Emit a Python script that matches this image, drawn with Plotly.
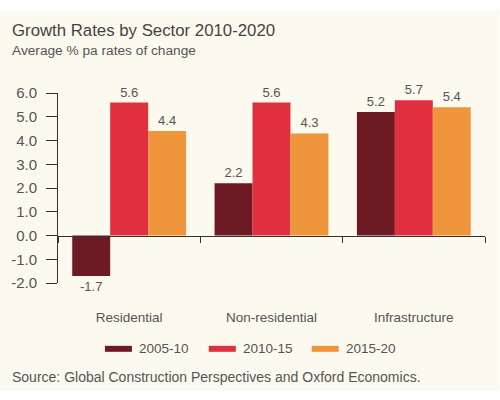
import plotly.graph_objects as go

categories = ["Residential", "Non-residential", "Infrastructure"]
series_names = ["2005-10", "2010-15", "2015-20"]
values_2005_10 = [-1.7, 2.2, 5.2]
values_2010_15 = [5.6, 5.6, 5.7]
values_2015_20 = [4.4, 4.3, 5.4]
y_ticks = [-2, -1, 0, 1, 2, 3, 4, 5, 6]

colors = ["#6d1a24", "#e0303f", "#ef963c"]
series_values = [values_2005_10, values_2010_15, values_2015_20]

W, H = 500, 400
L, R, T, B = 58, 14.5, 92.5, 117
PW, PH = W - L - R, H - T - B


def px2x(px):
    return (px - L) / PW


def py2y(py):
    return (H - B - py) / PH


TXT = "#555555"
FONT = "Liberation Sans, Arial, sans-serif"

fig = go.Figure()
for name, vals, col in zip(series_names, series_values, colors):
    fig.add_trace(go.Bar(
        x=categories, y=vals, name=name, marker=dict(color=col, line=dict(width=0)),
        text=[f"{v:.1f}" for v in vals], textposition="outside",
        textfont=dict(size=13, color=TXT, family=FONT), cliponaxis=False,
        showlegend=False,
    ))

shapes = [dict(type="rect", xref="paper", yref="paper", layer="below",
               x0=px2x(0), x1=px2x(W), y0=py2y(391), y1=py2y(10),
               fillcolor="#fcf9ef", line=dict(width=0))]
annotations = [
    dict(text="Growth Rates by Sector 2010-2020", xref="paper", yref="paper",
         x=px2x(10), y=py2y(30), xanchor="left", yanchor="middle", showarrow=False,
         font=dict(size=16.8, color="#444444", family=FONT)),
    dict(text="Average % pa rates of change", xref="paper", yref="paper",
         x=px2x(10), y=py2y(50), xanchor="left", yanchor="middle", showarrow=False,
         font=dict(size=13.7, color=TXT, family=FONT)),
    dict(text="Source: Global Construction Perspectives and Oxford Economics.", xref="paper", yref="paper",
         x=px2x(10), y=py2y(377.5), xanchor="left", yanchor="middle", showarrow=False,
         font=dict(size=14, color=TXT, family=FONT)),
]
# legend
leg_x = [105, 209, 312]
for i, (name, col) in enumerate(zip(series_names, colors)):
    x0 = leg_x[i]
    shapes.append(dict(type="rect", xref="paper", yref="paper",
                       x0=px2x(x0), x1=px2x(x0 + 27), y0=py2y(352), y1=py2y(346),
                       fillcolor=col, line=dict(width=0)))
    annotations.append(dict(text=name, xref="paper", yref="paper", x=px2x(x0 + 32), y=py2y(349),
                            xanchor="left", yanchor="middle", showarrow=False,
                            font=dict(size=13.5, color=TXT, family=FONT)))

fig.update_layout(
    width=W, height=H, margin=dict(l=L, r=R, t=T, b=B, autoexpand=False),
    paper_bgcolor="white", plot_bgcolor="rgba(0,0,0,0)",
    barmode="group", bargap=0.2, bargroupgap=0,
    shapes=shapes, annotations=annotations,
    font=dict(family=FONT, color=TXT),
    xaxis=dict(anchor="free", position=py2y(236), showline=True, linecolor="#333333", linewidth=1,
               ticks="outside", tickson="boundaries", ticklen=6, tickcolor="#333333",
               showgrid=False, zeroline=False, tickfont=dict(size=13.5, color=TXT),
               ticklabelstandoff=69),
    yaxis=dict(range=[-2, 6], tickvals=y_ticks, ticktext=[f"{v:.1f}" for v in y_ticks],
               showline=True, linecolor="#333333", linewidth=1, ticks="outside", ticklen=11,
               tickcolor="#333333", showgrid=False, zeroline=False,
               tickfont=dict(size=15, color=TXT), ticklabelstandoff=6),
)

fig.write_html("out.html")
